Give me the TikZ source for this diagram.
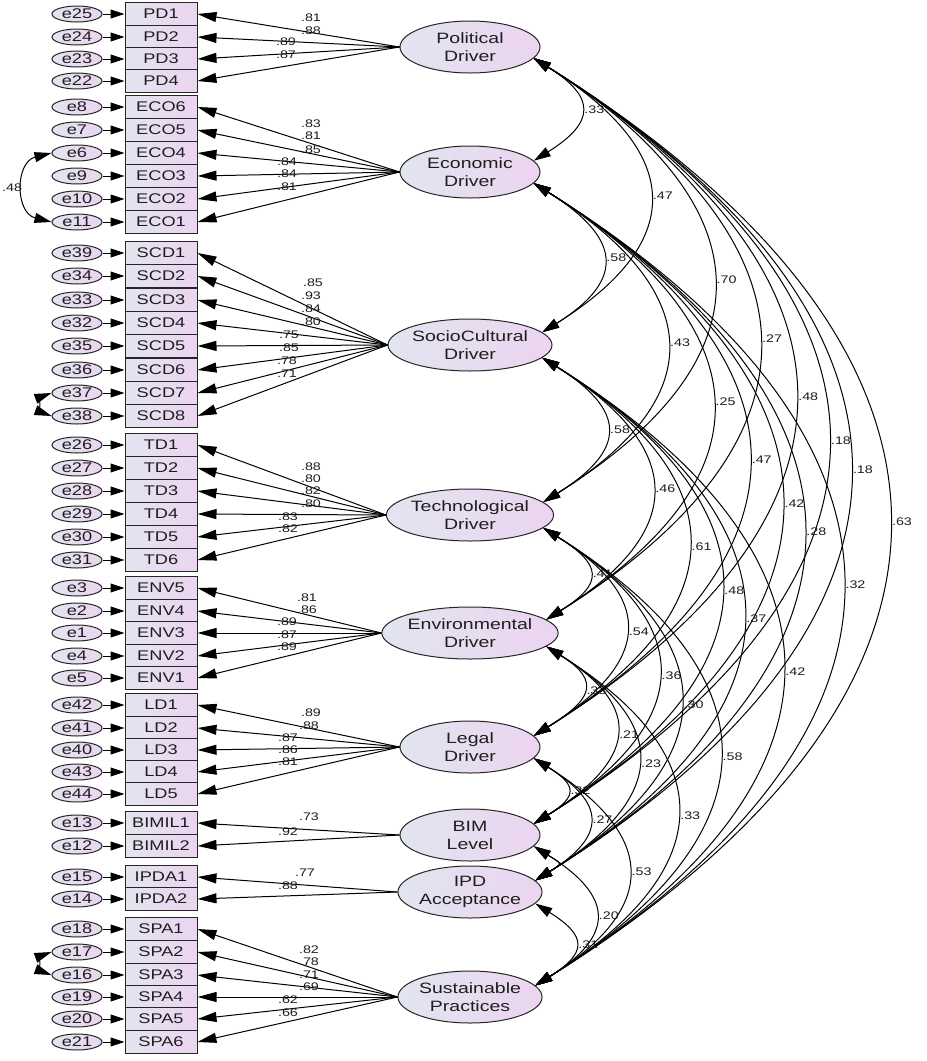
\documentclass[tikz,border=0pt]{standalone}
\usepackage{fontspec}
\newfontfamily\amos{Liberation Sans}[FakeStretch=1.3]
\usetikzlibrary{arrows.meta,calc,shapes.geometric}
\definecolor{fillL}{RGB}{226,229,240}
\definecolor{fillR}{RGB}{236,212,240}
\definecolor{txt}{RGB}{30,30,30}
\begin{document}
\begin{tikzpicture}[x=1pt,y=-1pt,
  obs/.style={rectangle, draw=black!85, line width=1pt, left color=fillL, right color=fillR,
    minimum width=72pt, minimum height=22.6pt, inner sep=0pt, text=txt,
    font=\amos\fontsize{14}{16}\selectfont},
  err/.style={ellipse, draw=black!85, line width=1pt, left color=fillL, right color=fillR,
    minimum width=50pt, minimum height=16pt, inner sep=0pt, text=txt,
    font=\amos\fontsize{14}{16}\selectfont},
  lat/.style={ellipse, draw=black!85, line width=1pt, left color=fillL, right color=fillR,
    minimum width=140pt, minimum height=52pt, inner sep=0pt, align=center, text=txt,
    font=\amos\fontsize{15}{18}\selectfont},
  lab/.style={inner sep=0.5pt, text=txt, font=\amos\fontsize{11}{12}\selectfont},
  load/.style={line width=1pt, -{Triangle[length=19pt,width=10pt]}},
  erra/.style={line width=1pt, -{Triangle[length=14pt,width=9pt]}},
  cov/.style={line width=1pt, {Triangle[length=17pt,width=10pt]}-{Triangle[length=17pt,width=10pt]}}
]
\fill[white] (0,0) rectangle (927,1061);
\useasboundingbox (0,0) rectangle (927,1061);

% latent variables
\node[lat] (L1) at (470,47)  {Political\\Driver};
\node[lat] (L2) at (470,172) {Economic\\Driver};
\node[lat] (L3) at (470,345) {SocioCultural\\Driver};
\node[lat] (L4) at (470,515) {Technological\\Driver};
\node[lat] (L5) at (470,633) {Environmental\\Driver};
\node[lat] (L6) at (470,747) {Legal\\Driver};
\node[lat] (L7) at (470,835) {BIM\\Level};
\node[lat] (L8) at (470,892) {IPD\\Acceptance};
\node[lat] (L9) at (470,997) {Sustainable\\Practices};

% observed variables, errors, loadings
\foreach \n/\e/\y/\l/\v/\lx/\ly in {
  PD1/e25/14/L1/.81/311/18, PD2/e24/37/L1/.88/311/31, PD3/e23/59/L1/.89/286/42, PD4/e22/81/L1/.87/286/55,
  ECO6/e8/107/L2/.83/311/124, ECO5/e7/130/L2/.81/311/136, ECO4/e6/153/L2/.85/311/150,
  ECO3/e9/176/L2/.84/287/162, ECO2/e10/199/L2/.84/287/174, ECO1/e11/222/L2/.81/287/187,
  SCD1/e39/253/L3/.85/313/283, SCD2/e34/276/L3/.93/311/296, SCD3/e33/300/L3/.84/311/309,
  SCD4/e32/323/L3/.80/311/322, SCD5/e35/346/L3/.75/289/335, SCD6/e36/370/L3/.85/289/348,
  SCD7/e37/393/L3/.78/287/361, SCD8/e38/416/L3/.71/287/374,
  TD1/e26/445/L4/.88/311/467, TD2/e27/468/L4/.80/311/479, TD3/e28/491/L4/.82/311/491,
  TD4/e29/514/L4/.80/311/504, TD5/e30/537/L4/.83/288/517, TD6/e31/560/L4/.82/288/529,
  ENV5/e3/588/L5/.81/307/598, ENV4/e2/611/L5/.86/307/610, ENV3/e1/633/L5/.89/287/622,
  ENV2/e4/656/L5/.87/287/635, ENV1/e5/678/L5/.89/287/647,
  LD1/e42/705/L6/.89/311/713, LD2/e41/728/L6/.88/309/726, LD3/e40/750/L6/.87/288/738,
  LD4/e43/772/L6/.86/288/750, LD5/e44/794/L6/.81/288/762,
  BIMIL1/e13/823/L7/.73/309/817, BIMIL2/e12/846/L7/.92/288/832,
  IPDA1/e15/877/L8/.77/305/873, IPDA2/e14/899/L8/.88/288/886,
  SPA1/e18/929/L9/.82/309/950, SPA2/e17/952/L9/.78/309/962, SPA3/e16/975/L9/.71/309/975,
  SPA4/e19/997/L9/.69/309/987, SPA5/e20/1019/L9/.62/288/1000, SPA6/e21/1042/L9/.66/288/1013}{
  \node[obs] (\n) at (161,\y) {\n};
  \node[err] (\e) at (77,\y) {\e};
  \draw[erra] (\e) -- (\n);
  \draw[load] (\l.west) -- (\n.east);
  \node[lab] (lab\n) at (\lx,\ly) {\v};
}

% error covariances
\draw[cov] (e6.west) to[bend right=76, looseness=1.4] node[lab, anchor=east, xshift=-1pt] (c611) {.48} (e11.west);
\draw[cov] (e37.west) to[bend right=70, looseness=1.2] (e38.west);
\draw[cov] (e17.west) to[bend right=70, looseness=1.2] (e16.west);

% latent covariances
\foreach \i/\j/\v in {
  1/2/.33, 1/3/.47, 1/4/.70, 1/5/.27, 1/6/.48, 1/7/.18, 1/8/.18, 1/9/.63,
  2/3/.58, 2/4/.43, 2/5/.25, 2/6/.47, 2/7/.42, 2/8/.28, 2/9/.32,
  3/4/.58, 3/5/.46, 3/6/.61, 3/7/.48, 3/8/.37, 3/9/.42,
  4/5/.41, 4/6/.54, 4/7/.36, 4/8/.30, 4/9/.58,
  5/6/.33, 5/7/.21, 5/8/.23, 5/9/.33,
  6/7/.32, 6/8/.27, 6/9/.53,
  7/8/{}, 7/9/.20, 8/9/.31}{
  \draw[cov] let \p1=(L\i.center), \p2=(L\j.center), \n1={0.585*abs(\y2-\y1)} in
    (L\i.-10) .. controls +(-32:\n1) and +(32:\n1) .. (L\j.10)
    node[lab, pos=0.5, anchor=west, xshift=3pt] (cv\i\j) {\v};
}
\end{tikzpicture}
\end{document}
